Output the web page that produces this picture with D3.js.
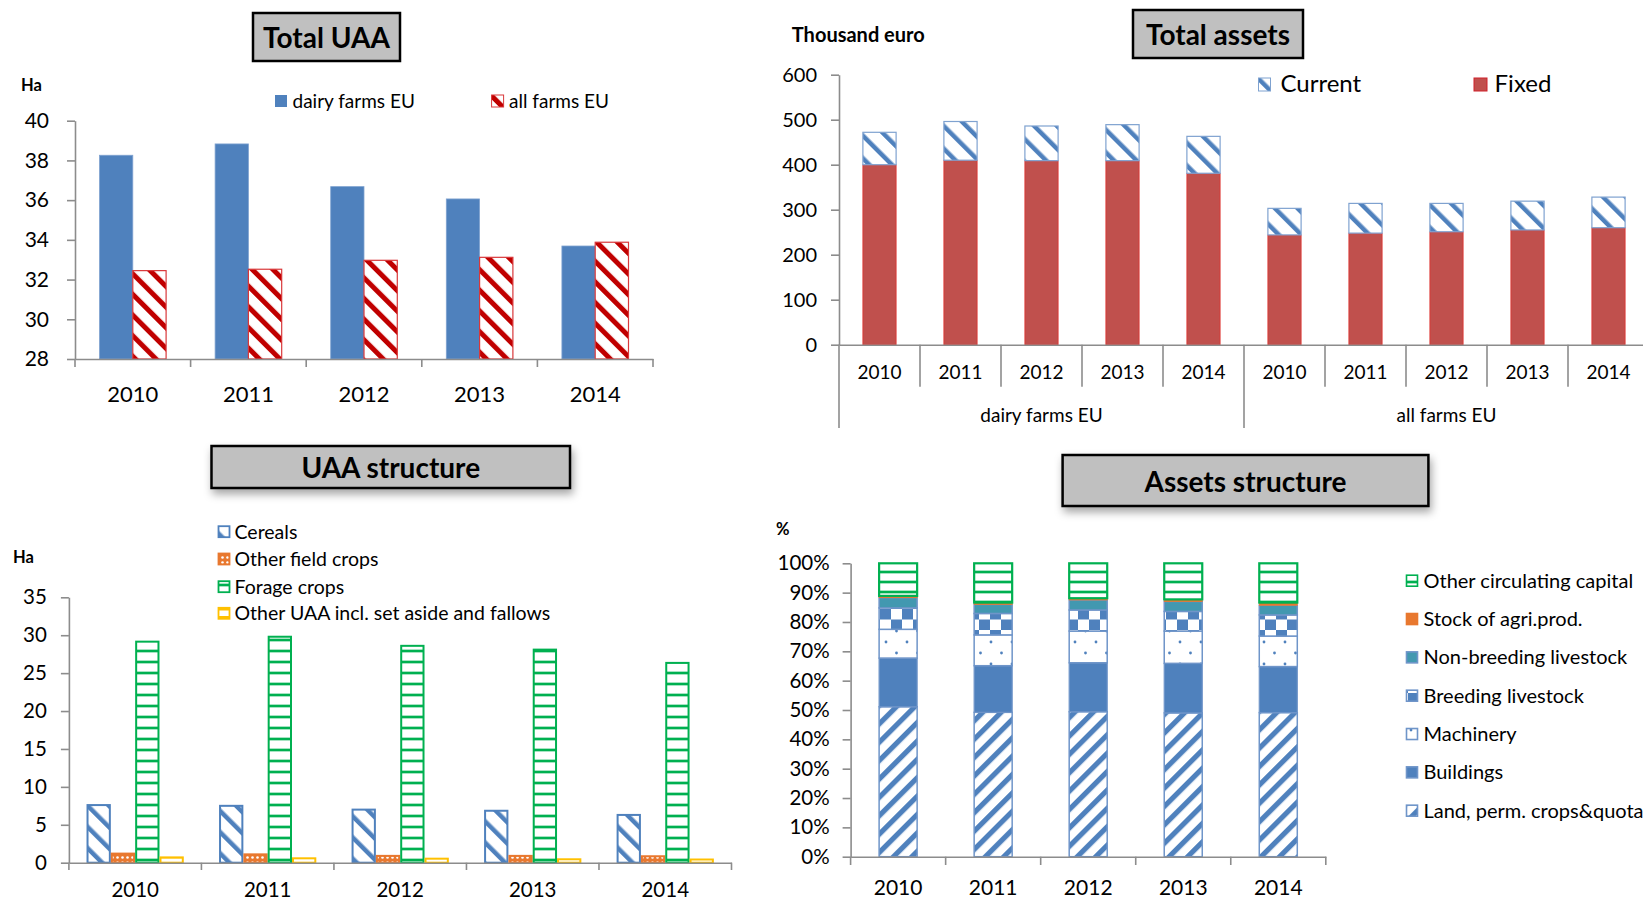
<!DOCTYPE html>
<html><head><meta charset="utf-8">
<script src="https://cdn.jsdelivr.net/npm/d3@7"></script>
<style>
html,body{margin:0;padding:0;background:#fff;overflow:hidden}
svg{display:block;font-family:Lato,"Open Sans",sans-serif}
</style></head><body>
<svg id="c" width="1643" height="901"></svg>
<script>
// ---------------- DATA ----------------
const years = ["2010", "2011", "2012", "2013", "2014"];

// Total UAA (Ha)
const uaaSeries = ["dairy farms EU", "all farms EU"];
const uaaDairy = [38.26, 38.83, 36.68, 36.06, 33.69];
const uaaAll = [32.45, 32.52, 32.97, 33.12, 33.88];
const uaaTicks = [28, 30, 32, 34, 36, 38, 40];

// Total assets (thousand euro)
const assetGroups = ["dairy farms EU", "all farms EU"];
const assetSeries = ["Current", "Fixed"];
const fixedDairy = [400, 410, 409, 409, 381];
const currentDairy = [72, 86, 77, 80, 82];
const fixedAll = [244, 248, 251, 255, 260];
const currentAll = [59, 66, 63, 64, 68];
const assetTicks = [0, 100, 200, 300, 400, 500, 600];

// UAA structure (Ha)
const structSeries = ["Cereals", "Other field crops", "Forage crops", "Other UAA incl. set aside and fallows"];
const cereals = [7.6, 7.5, 7.0, 6.85, 6.3];
const otherField = [1.2, 1.1, 0.9, 0.9, 0.85];
const forage = [29.15, 29.8, 28.6, 28.1, 26.35];
const otherUAA = [0.7, 0.58, 0.53, 0.45, 0.42];
const structTicks = [0, 5, 10, 15, 20, 25, 30, 35];

// Assets structure (%)
const assetStructSeries = ["Land, perm. crops&quota", "Buildings", "Machinery", "Breeding livestock",
  "Non-breeding livestock", "Stock of agri.prod.", "Other circulating capital"];
const landShare = [51.1, 49.2, 49.4, 49.0, 49.1];
const buildingsShare = [16.6, 15.9, 16.7, 16.9, 15.7];
const machineryShare = [9.8, 10.5, 10.8, 11.0, 10.4];
const breedingShare = [7.3, 7.3, 7.2, 6.7, 7.2];
const nonBreedingShare = [3.5, 3.1, 3.4, 3.4, 3.3];
const stockShare = [0.6, 0.6, 0.6, 0.7, 0.9];
const otherCircShare = [11.1, 13.4, 11.9, 12.3, 13.4];
const pctTicks = [0, 10, 20, 30, 40, 50, 60, 70, 80, 90, 100];

// ---------------- STYLE ----------------
const BLUE = "#4f81bd", RED = "#c0504d", DRED = "#c00000", GREEN = "#00b050",
      ORANGE = "#e8782f", TEAL = "#4298b0", YELLOW = "#ffc000", AXIS = "#8c8c8c";

const svg = d3.select("#c");
const defs = svg.append("defs");

function stripes(id, color, period, width, angle) {
  const p = defs.append("pattern").attr("id", id).attr("patternUnits", "userSpaceOnUse")
    .attr("width", period).attr("height", period).attr("patternTransform", `rotate(${angle})`);
  p.append("rect").attr("width", period).attr("height", period).attr("fill", "#fff");
  p.append("rect").attr("width", width).attr("height", period).attr("fill", color);
}
stripes("redStripes", DRED, 14.6, 5, -45);
stripes("blueStripesC", BLUE, 16, 4.5, -45);
stripes("cerealStripes", BLUE, 15, 4.5, -45);
stripes("landStripes", BLUE, 13, 5.2, 45);

function hlines(id, color, period, thick) {
  const p = defs.append("pattern").attr("id", id).attr("patternUnits", "userSpaceOnUse")
    .attr("width", 10).attr("height", period);
  p.append("rect").attr("width", 10).attr("height", period).attr("fill", "#fff");
  p.append("rect").attr("y", 0).attr("width", 10).attr("height", thick + 2).attr("fill", color).attr("opacity", 0.35);
  p.append("rect").attr("y", 1).attr("width", 10).attr("height", thick).attr("fill", color);
}
hlines("greenLines", GREEN, 11, 2);
hlines("greenLines2", GREEN, 10, 2);

(function () {
  const p = defs.append("pattern").attr("id", "checker").attr("patternUnits", "userSpaceOnUse")
    .attr("width", 22).attr("height", 21);
  p.append("rect").attr("width", 22).attr("height", 21).attr("fill", "#fff");
  p.append("rect").attr("x", 0).attr("y", 0).attr("width", 11).attr("height", 10.5).attr("fill", BLUE);
  p.append("rect").attr("x", 11).attr("y", 10.5).attr("width", 11).attr("height", 10.5).attr("fill", BLUE);
})();
(function () {
  const p = defs.append("pattern").attr("id", "dots").attr("patternUnits", "userSpaceOnUse")
    .attr("width", 21).attr("height", 22);
  p.append("rect").attr("width", 21).attr("height", 22).attr("fill", "#fff");
  [[4, 4], [14.5, 15]].forEach(([cx, cy]) =>
    p.append("circle").attr("cx", cx).attr("cy", cy).attr("r", 1.4).attr("fill", BLUE));
})();
(function () {
  const p = defs.append("pattern").attr("id", "orangeDots").attr("patternUnits", "userSpaceOnUse")
    .attr("width", 5).attr("height", 5);
  p.append("rect").attr("width", 5).attr("height", 5).attr("fill", ORANGE);
  p.append("circle").attr("cx", 2.5).attr("cy", 2.5).attr("r", 1.3).attr("fill", "#fff");
})();
(function () {
  const p = defs.append("pattern").attr("id", "yellowFill").attr("patternUnits", "userSpaceOnUse")
    .attr("width", 10).attr("height", 8);
  p.append("rect").attr("width", 10).attr("height", 8).attr("fill", "#fff");
  p.append("rect").attr("width", 10).attr("height", 2.5).attr("fill", YELLOW);
})();

const shadow = defs.append("filter").attr("id", "shadow")
  .attr("x", "-10%").attr("y", "-30%").attr("width", "125%").attr("height", "180%");
shadow.append("feDropShadow").attr("dx", 2).attr("dy", 5).attr("stdDeviation", 4)
  .attr("flood-color", "#000").attr("flood-opacity", 0.35);

function titleBox(x, y, w, h, baseline, text, withShadow) {
  const g = svg.append("g");
  const r = g.append("rect").attr("x", x).attr("y", y).attr("width", w).attr("height", h)
    .attr("fill", "#c0c0c0").attr("stroke", "#000").attr("stroke-width", 2.5);
  if (withShadow) r.attr("filter", "url(#shadow)");
  g.append("text").attr("x", x + w / 2).attr("y", baseline).attr("text-anchor", "middle")
    .attr("font-weight", "bold").attr("font-size", 28).attr("fill", "#000").text(text);
}

function styleYAxis(g, fs) {
  g.select(".domain").attr("stroke", AXIS).attr("stroke-width", 1.6);
  g.selectAll(".tick line").attr("stroke", AXIS).attr("stroke-width", 1.6);
  g.selectAll(".tick text").attr("fill", "#000").attr("font-size", fs).attr("font-family", "Lato, sans-serif");
}
function label(x, y, t, fs, bold, anchor) {
  return svg.append("text").attr("x", x).attr("y", y).attr("font-size", fs)
    .attr("font-weight", bold ? "bold" : "normal").attr("text-anchor", anchor || "start")
    .attr("fill", "#000").text(t);
}

// ============ PANEL 1: Total UAA ============
{
  const y = d3.scaleLinear().domain([28, 40]).range([359, 120.7]);
  const x = d3.scaleBand().domain(years).range([75, 653]);
  const bw = x.bandwidth();
  const s = d3.scaleBand().domain(uaaSeries).range([0.212 * bw, 0.788 * bw]);
  const vals = [uaaDairy, uaaAll];
  const fills = [BLUE, "url(#redStripes)"];
  const strokes = ["#7fa2d0", "#d9383a"];
  uaaSeries.forEach((sn, si) => {
    svg.append("g").selectAll("rect").data(years).join("rect")
      .attr("x", d => x(d) + s(sn)).attr("width", s.bandwidth())
      .attr("y", (d, i) => y(vals[si][i])).attr("height", (d, i) => y(28) - y(vals[si][i]))
      .attr("fill", fills[si]).attr("stroke", strokes[si]).attr("stroke-width", si ? 1.2 : 0.8);
  });
  const ya = svg.append("g").attr("transform", "translate(75,0)")
    .call(d3.axisLeft(y).tickValues(uaaTicks).tickSize(8).tickSizeOuter(0).tickPadding(18).tickFormat(d3.format("d")));
  styleYAxis(ya, 21);
  const xa = svg.append("g").attr("transform", "translate(0,359)")
    .call(d3.axisBottom(x).tickSize(0).tickPadding(27).tickSizeOuter(0));
  xa.select(".domain").attr("stroke", AXIS).attr("stroke-width", 1.6);
  xa.selectAll(".tick text").attr("font-size", 22).attr("fill", "#000").attr("font-family", "Lato, sans-serif");
  const bounds = years.map(d => x(d)).concat([x.range()[1]]);
  svg.append("g").selectAll("line").data(bounds).join("line")
    .attr("x1", d => d).attr("x2", d => d).attr("y1", 359).attr("y2", 367)
    .attr("stroke", AXIS).attr("stroke-width", 1.6);

  label(21, 90.7, "Ha", 16.5, true);
  const lg = [{ x: 275, t: uaaSeries[0] }, { x: 491.6, t: uaaSeries[1] }];
  lg.forEach((l, i) => {
    svg.append("rect").attr("x", l.x).attr("y", 95).attr("width", 12).attr("height", 12)
      .attr("fill", fills[i]).attr("stroke", i ? "#d9383a" : "none").attr("stroke-width", 1);
    label(l.x + 17.5, 101, l.t, 19).attr("dy", "0.35em");
  });
  titleBox(253, 13, 147, 48, 48.3, "Total UAA", false);
}

// ============ PANEL 2: Total assets ============
{
  const keys = [];
  assetGroups.forEach(g => years.forEach(yr => keys.push(g + "|" + yr)));
  const fixedVals = fixedDairy.concat(fixedAll);
  const currentVals = currentDairy.concat(currentAll);
  const y = d3.scaleLinear().domain([0, 600]).range([344.7, 74.7]);
  const x = d3.scaleBand().domain(keys).range([839, 1649]);
  const bw = x.bandwidth(), w = bw * 0.41, off = (bw - w) / 2;
  svg.append("g").selectAll("rect").data(keys).join("rect")
    .attr("x", d => x(d) + off).attr("width", w)
    .attr("y", (d, i) => y(fixedVals[i])).attr("height", (d, i) => y(0) - y(fixedVals[i]))
    .attr("fill", RED).attr("stroke", "#e0302c").attr("stroke-width", 0.8);
  svg.append("g").selectAll("rect").data(keys).join("rect")
    .attr("x", d => x(d) + off).attr("width", w)
    .attr("y", (d, i) => y(fixedVals[i] + currentVals[i]))
    .attr("height", (d, i) => y(fixedVals[i]) - y(fixedVals[i] + currentVals[i]))
    .attr("fill", "url(#blueStripesC)").attr("stroke", "#7fa2d0").attr("stroke-width", 1.2);

  const ya = svg.append("g").attr("transform", "translate(839,0)")
    .call(d3.axisLeft(y).tickValues(assetTicks).tickSize(8).tickSizeOuter(0).tickPadding(14).tickFormat(d3.format("d")));
  styleYAxis(ya, 20);
  const xa = svg.append("g").attr("transform", "translate(0,344.7)")
    .call(d3.axisBottom(x).tickSize(0).tickPadding(28).tickSizeOuter(0).tickFormat(d => d.split("|")[1]));
  xa.select(".domain").attr("stroke", AXIS).attr("stroke-width", 1.6);
  xa.selectAll(".tick text").attr("font-size", 19).attr("fill", "#000").attr("font-family", "Lato, sans-serif")
    .attr("dy", "0.35em");
  const bounds = keys.map(d => x(d)).concat([x.range()[1]]);
  svg.append("g").selectAll("line").data(bounds).join("line")
    .attr("x1", d => d).attr("x2", d => d).attr("y1", 344.7)
    .attr("y2", (d, i) => (i % 5 === 0) ? 428 : 386.7)
    .attr("stroke", AXIS).attr("stroke-width", 1.6);
  assetGroups.forEach(g => {
    const cx = (x(g + "|" + years[0]) + x(g + "|" + years[4]) + bw) / 2;
    label(cx, 415, g, 19, false, "middle").attr("dy", "0.35em");
  });
  label(791.8, 41.5, "Thousand euro", 20, true);
  svg.append("rect").attr("x", 1258.5).attr("y", 78).attr("width", 12).attr("height", 13)
    .attr("fill", "url(#blueStripesC)").attr("stroke", "#7fa2d0").attr("stroke-width", 1);
  label(1280.5, 92.3, assetSeries[0], 24);
  svg.append("rect").attr("x", 1474).attr("y", 78).attr("width", 13).attr("height", 13)
    .attr("fill", RED).attr("stroke", "#d0202a").attr("stroke-width", 1);
  label(1494.6, 92.3, assetSeries[1], 24);
  titleBox(1133, 10, 170, 48, 45, "Total assets", false);
}

// ============ PANEL 3: UAA structure ============
{
  const y = d3.scaleLinear().domain([0, 35]).range([862.7, 597.3]);
  const x = d3.scaleBand().domain(years).range([68.9, 731.5]);
  const bw = x.bandwidth();
  const s = d3.scaleBand().domain(structSeries).range([0.133 * bw, 0.867 * bw]);
  const vals = [cereals, otherField, forage, otherUAA];
  const fills = ["url(#cerealStripes)", "url(#orangeDots)", "url(#greenLines)", "url(#yellowFill)"];
  const strokes = [BLUE, ORANGE, GREEN, YELLOW];
  structSeries.forEach((sn, si) => {
    svg.append("g").selectAll("rect").data(years).join("rect")
      .attr("x", d => x(d) + s(sn) + 1).attr("width", s.bandwidth() - 2)
      .attr("y", (d, i) => y(vals[si][i])).attr("height", (d, i) => y(0) - y(vals[si][i]))
      .attr("fill", fills[si]).attr("stroke", strokes[si]).attr("stroke-width", 2);
  });
  const ya = svg.append("g").attr("transform", "translate(68.9,0)")
    .call(d3.axisLeft(y).tickValues(structTicks).tickSize(8).tickSizeOuter(0).tickPadding(14).tickFormat(d3.format("d")));
  styleYAxis(ya, 20.5);
  const xa = svg.append("g").attr("transform", "translate(0,862.7)")
    .call(d3.axisBottom(x).tickSize(0).tickPadding(20).tickSizeOuter(0));
  xa.select(".domain").attr("stroke", AXIS).attr("stroke-width", 1.6);
  xa.selectAll(".tick text").attr("font-size", 20.5).attr("fill", "#000").attr("font-family", "Lato, sans-serif");
  const bounds = years.map(d => x(d)).concat([x.range()[1]]);
  svg.append("g").selectAll("line").data(bounds).join("line")
    .attr("x1", d => d).attr("x2", d => d).attr("y1", 862.7).attr("y2", 870)
    .attr("stroke", AXIS).attr("stroke-width", 1.6);
  label(13, 562.7, "Ha", 16.5, true);
  const rows = [531.7, 559, 586.7, 613.3];
  structSeries.forEach((sn, i) => {
    svg.append("rect").attr("x", 218.5).attr("y", rows[i] - 5.5).attr("width", 11).attr("height", 11)
      .attr("fill", fills[i]).attr("stroke", strokes[i]).attr("stroke-width", 1.8);
    label(234.5, rows[i], sn, 19.5).attr("dy", "0.35em");
  });
  titleBox(211.5, 446, 358.5, 42, 478, "UAA structure", true);
}

// ============ PANEL 4: Assets structure ============
{
  const y = d3.scaleLinear().domain([0, 100]).range([856.7, 563.3]);
  const x = d3.scaleBand().domain(years).range([850.6, 1325.8]);
  const bw = x.bandwidth(), w = bw * 0.4, off = (bw - w) / 2;
  const shares = [landShare, buildingsShare, machineryShare, breedingShare, nonBreedingShare, stockShare, otherCircShare];
  const rowsData = years.map((yr, i) => {
    const o = { year: yr };
    assetStructSeries.forEach((sn, si) => o[sn] = shares[si][i]);
    return o;
  });
  const stacked = d3.stack().keys(assetStructSeries)(rowsData);
  const fills = ["url(#landStripes)", BLUE, "url(#dots)", "url(#checker)", TEAL, ORANGE, "url(#greenLines2)"];
  const strokes = ["#6f95c9", "#6f95c9", "#6f95c9", "#6f95c9", "#6f95c9", ORANGE, GREEN];
  const sw = [1.5, 1.2, 1.5, 1.5, 1.5, 0.8, 2.2];
  stacked.forEach((layer, li) => {
    svg.append("g").selectAll("rect").data(layer).join("rect")
      .attr("x", d => x(d.data.year) + off).attr("width", w)
      .attr("y", d => y(d[1])).attr("height", d => y(d[0]) - y(d[1]))
      .attr("fill", fills[li]).attr("stroke", strokes[li]).attr("stroke-width", sw[li]);
  });
  const ya = svg.append("g").attr("transform", "translate(850.6,0)")
    .call(d3.axisLeft(y).tickValues(pctTicks).tickSize(8).tickSizeOuter(0).tickPadding(13).tickFormat(d => d + "%"));
  styleYAxis(ya, 20.5);
  const xa = svg.append("g").attr("transform", "translate(0,856.7)")
    .call(d3.axisBottom(x).tickSize(0).tickPadding(31).tickSizeOuter(0));
  xa.select(".domain").attr("stroke", AXIS).attr("stroke-width", 1.6);
  xa.selectAll(".tick text").attr("font-size", 21).attr("fill", "#000").attr("font-family", "Lato, sans-serif")
    .attr("dy", "0.35em");
  const bounds = years.map(d => x(d)).concat([x.range()[1]]);
  svg.append("g").selectAll("line").data(bounds).join("line")
    .attr("x1", d => d).attr("x2", d => d).attr("y1", 856.7).attr("y2", 865)
    .attr("stroke", AXIS).attr("stroke-width", 1.6);
  label(776, 535, "%", 16.5, true);
  const legendOrder = assetStructSeries.map((s, i) => i).reverse();
  legendOrder.forEach((si, r) => {
    const cy = 580.7 + r * 38.33;
    svg.append("rect").attr("x", 1406.5).attr("y", cy - 5.5).attr("width", 11).attr("height", 11)
      .attr("fill", fills[si]).attr("stroke", strokes[si]).attr("stroke-width", 1.6);
    label(1423.5, cy, assetStructSeries[si], 20).attr("dy", "0.35em");
  });
  titleBox(1062.6, 455, 365.8, 51, 491.7, "Assets structure", true);
}
</script>
</body></html>
